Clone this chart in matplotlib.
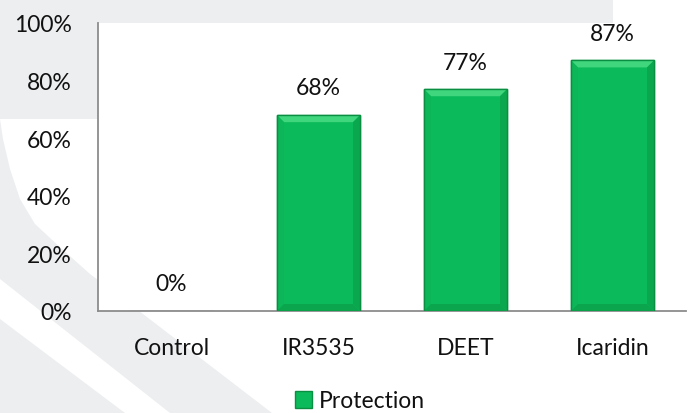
import matplotlib
matplotlib.use("Agg")
import matplotlib.pyplot as plt
from matplotlib.patches import Polygon, Patch
import numpy as np

categories = ["Control", "IR3535", "DEET", "Icaridin"]
protection = [0.00, 0.68, 0.77, 0.87]
value_labels = ["0%", "68%", "77%", "87%"]
yticks = [0, 0.2, 0.4, 0.6, 0.8, 1.0]
ytick_labels = ["0%", "20%", "40%", "60%", "80%", "100%"]
series_name = "Protection"

W, H = 691, 414
plt.rcParams['font.family'] = ['Lato', 'DejaVu Sans']
FS = 16.5
TXT = "#111111"
fig = plt.figure(figsize=(W / 100, H / 100), dpi=100)
fig.patch.set_facecolor("white")

grey = "#EDEEF0"
def px(pts):
    return [(x / W, 1 - y / H) for x, y in pts]

# decorative background shapes
bg_shapes = [
    [(0, 0), (613, 0), (613, 24), (98, 24), (98, 120), (0, 120)],
    [(0, 120), (3, 140), (10, 170), (20, 200), (35, 225), (62, 250), (90, 275),
     (130, 305), (272, 414), (170, 414), (0, 280)],
    [(0, 320), (125, 414), (0, 414)],
]
for s in bg_shapes:
    fig.patches.append(Polygon(px(s), closed=True, transform=fig.transFigure,
                               facecolor=grey, edgecolor="none", zorder=-5))

ax = fig.add_axes([98 / W, 1 - 312 / H, (686 - 98) / W, (312 - 24) / H])
ax.set_zorder(2)
ax.set_facecolor("white")
x = np.arange(len(categories))
bw = 0.565
bars = ax.bar(x, protection, width=bw, color="#0BBA5A", edgecolor="#0A8F42",
              linewidth=1.0, zorder=2)
ax.set_xlim(-0.5, len(categories) - 0.5)
ax.set_ylim(0, 1.0)

# bevel effect
dx = 7 * (len(categories)) / (686 - 98)
dy = 7 / (312 - 24)
for b in bars:
    h = b.get_height()
    if h <= 0:
        continue
    x0, x1 = b.get_x(), b.get_x() + b.get_width()
    y0, y1 = 0, h
    faces = [
        ([(x0, y1), (x1, y1), (x1 - dx, y1 - dy), (x0 + dx, y1 - dy)], "#3FD67E"),
        ([(x0, y0), (x0, y1), (x0 + dx, y1 - dy), (x0 + dx, y0 + dy)], "#0DB658"),
        ([(x1, y0), (x1, y1), (x1 - dx, y1 - dy), (x1 - dx, y0 + dy)], "#0AA74E"),
        ([(x0, y0), (x1, y0), (x1 - dx, y0 + dy), (x0 + dx, y0 + dy)], "#0AA54D"),
    ]
    for pts, c in faces:
        ax.add_patch(Polygon(pts, closed=True, facecolor=c, edgecolor="none", zorder=3))
    ax.add_patch(plt.Rectangle((x0, y0), x1 - x0, h, facecolor="none",
                               edgecolor="#0A8F42", linewidth=1.0, zorder=4))

for xi, v, lab in zip(x, protection, value_labels):
    ax.annotate(lab, (xi, v), xytext=(0, 12), textcoords="offset points",
                ha="center", va="bottom", fontsize=FS, color=TXT)

ax.set_xticks(x)
ax.set_xticklabels(categories, fontsize=FS, color=TXT)
ax.set_yticks(yticks)
ax.set_yticklabels(ytick_labels, fontsize=FS, color=TXT)
ax.tick_params(axis="both", length=0)
ax.tick_params(axis="y", pad=19)
ax.tick_params(axis="x", pad=18.5)
for s in ["top", "right"]:
    ax.spines[s].set_visible(False)
for s in ["left", "bottom"]:
    ax.spines[s].set_color("#8C8C8C")
    ax.spines[s].set_linewidth(1.3)

leg = fig.legend([Patch(facecolor="#0BBA5A", edgecolor="#0A8F42")], [series_name],
                 loc="center", bbox_to_anchor=(360 / W, 1 - 402 / H), frameon=False,
                 fontsize=FS, handlelength=0.7, handleheight=0.7, handletextpad=0.3,
                 borderpad=0)
for t in leg.get_texts():
    t.set_color(TXT)

fig.savefig("out.png", dpi=100, facecolor=fig.get_facecolor())
